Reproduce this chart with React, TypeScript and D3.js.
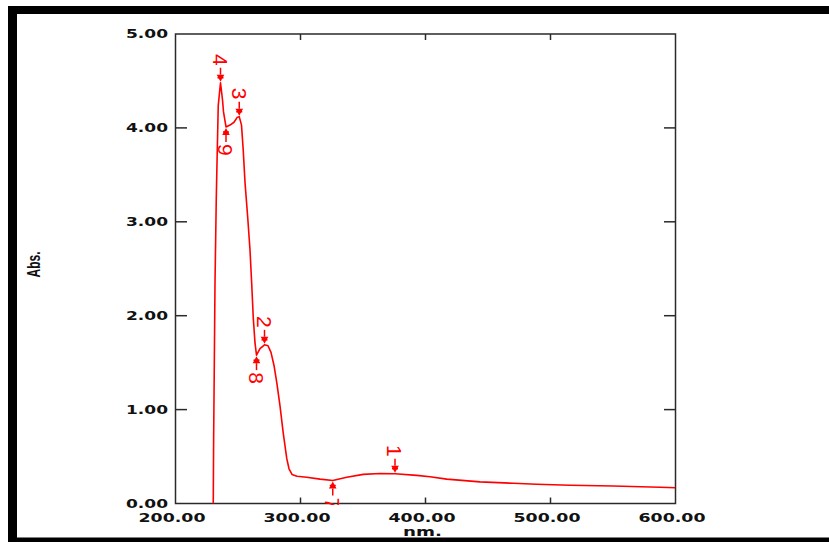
import React from "react";
import * as d3 from "d3";

// Spectrum (nm, Abs.)
const wavelengths = [
  230.2, 230.5, 231.0, 231.6, 232.6, 233.0, 234.2, 236.0, 237.6, 238.4, 240.4, 243.6, 246.8,
  249.2, 251.0, 252.8, 254.2, 255.6, 257.8, 259.6, 261.0, 262.2, 263.6, 264.8, 267.6, 271.2,
  274.0, 276.4, 278.8, 281.2, 283.6, 286.2, 289.0, 290.8, 293.2, 297.2, 305.0, 315.6, 325.8,
  337.0, 350.2, 363.6, 375.6, 393.0, 403.6, 417.0, 443.6, 470.2, 489.0, 515.6, 550.2, 587.6, 600.0,
];
const absorbance = [
  0.0, 0.68, 1.42, 2.35, 3.23, 3.5, 4.24, 4.48, 4.3, 4.17, 4.01, 4.03, 4.06,
  4.11, 4.12, 4.03, 3.76, 3.42, 3.04, 2.7, 2.33, 1.98, 1.71, 1.58, 1.65, 1.69,
  1.68, 1.61, 1.47, 1.27, 1.04, 0.75, 0.48, 0.37, 0.31, 0.29, 0.28, 0.26, 0.245,
  0.28, 0.31, 0.32, 0.317, 0.3, 0.285, 0.26, 0.23, 0.215, 0.205, 0.194, 0.186, 0.173, 0.168,
];

// Peak / valley picks
const markerLabels = ["4", "3", "9", "2", "8", "1", "7"];
const markerWl = [236.0, 251.0, 240.4, 271.2, 264.8, 375.6, 325.8];
const markerAbs = [4.48, 4.12, 4.01, 1.69, 1.58, 0.317, 0.245];
const markerKind = ["peak", "peak", "valley", "peak", "valley", "peak", "valley"];

const xTicks = [200, 300, 400, 500, 600];
const yTicks = [0, 1, 2, 3, 4, 5];
const xTitle = "nm.";
const yTitle = "Abs.";

export default function App() {
  const W = 829;
  const H = 542;
  const x = d3.scaleLinear().domain([200, 600]).range([175.5, 675.5]);
  const y = d3.scaleLinear().domain([0, 5]).range([503.5, 34]);
  const pts: [number, number][] = wavelengths.map((w, i) => [w, absorbance[i]]);
  const line = d3
    .line<[number, number]>()
    .x((d) => x(d[0]))
    .y((d) => y(d[1]));

  const x0 = x(200), x1 = x(600), yT = y(5), yB = y(0);
  const axisColor = "#2a2a2a";
  const red = "#ff0000";
  const tickFont = "'DejaVu Sans', Verdana, sans-serif";
  const narrow = "'Liberation Sans Narrow', 'Liberation Sans', Arial, sans-serif";

  return (
    <svg
      width={W}
      height={H}
      style={{ position: "absolute", left: 0, top: 0, background: "#fff" }}
    >
      <defs>
        <clipPath id="plotClip">
          <rect x={x0} y={yT} width={x1 - x0} height={yB - yT + 1.5} />
        </clipPath>
      </defs>
      {/* black frame */}
      <rect x={8} y={6} width={821} height={8} fill="#000" />
      <rect x={8} y={6} width={9} height={536} fill="#000" />
      <rect x={8} y={537.5} width={821} height={5} fill="#000" />

      {/* plot border */}
      <rect
        x={x0}
        y={yT}
        width={x1 - x0}
        height={yB - yT}
        fill="none"
        stroke={axisColor}
        strokeWidth={1.5}
      />
      {/* x ticks (inside, top & bottom) */}
      {xTicks.slice(1, -1).map((t) => (
        <g key={"xt" + t}>
          <line x1={x(t)} x2={x(t)} y1={yB} y2={yB - 6} stroke={axisColor} strokeWidth={1.5} />
          <line x1={x(t)} x2={x(t)} y1={yT} y2={yT + 6} stroke={axisColor} strokeWidth={1.5} />
        </g>
      ))}
      {/* y ticks (inside, left & right) */}
      {yTicks.slice(1, -1).map((t) => (
        <g key={"yt" + t}>
          <line x1={x0} x2={x0 + 11.5} y1={y(t)} y2={y(t)} stroke={axisColor} strokeWidth={1.5} />
          <line x1={x1} x2={x1 - 11.5} y1={y(t)} y2={y(t)} stroke={axisColor} strokeWidth={1.5} />
        </g>
      ))}
      {/* tick labels */}
      {xTicks.map((t) => (
        <text
          key={"xl" + t}
          x={x(t) - 3.5 - 33.5}
          y={522}
          textLength={67}
          lengthAdjust="spacingAndGlyphs"
          fontFamily={tickFont}
          fontWeight="bold"
          fontSize={11.5}
          fill="#111"
        >
          {t.toFixed(2)}
        </text>
      ))}
      {yTicks.map((t) => (
        <text
          key={"yl" + t}
          x={168 - 42}
          y={y(t) + 4.2}
          textLength={42}
          lengthAdjust="spacingAndGlyphs"
          fontFamily={tickFont}
          fontWeight="bold"
          fontSize={11.5}
          fill="#111"
        >
          {t.toFixed(2)}
        </text>
      ))}
      {/* axis titles */}
      <text
        x={403}
        y={535.5}
        textLength={39}
        lengthAdjust="spacingAndGlyphs"
        fontFamily={tickFont}
        fontWeight="bold"
        fontSize={12.5}
        fill="#111"
      >
        {xTitle}
      </text>
      <text
        transform="translate(40,264.5) rotate(-90)"
        textAnchor="middle"
        textLength={26}
        lengthAdjust="spacingAndGlyphs"
        fontFamily={narrow}
        fontWeight="bold"
        fontSize={19}
        fill="#111"
      >
        {yTitle}
      </text>

      <g clipPath="url(#plotClip)">
        {/* spectrum */}
        <path d={line(pts) || ""} fill="none" stroke={red} strokeWidth={1.6} strokeLinejoin="round" />
        {/* markers */}
        {markerLabels.map((lab, i) => {
          const px = x(markerWl[i]);
          const py = y(markerAbs[i]);
          const dir = markerKind[i] === "peak" ? -1 : 1;
          const tip = py + dir * 1;
          const headBase = tip + dir * 7;
          const tail = tip + dir * 14;
          const labelY = py + dir * 23;
          return (
            <g key={"m" + i}>
              <line x1={px} x2={px} y1={headBase} y2={tail} stroke={red} strokeWidth={1.5} />
              <path
                d={`M${px},${tip} L${px - 3.8},${headBase} L${px + 3.8},${headBase} Z`}
                fill={red}
              />
              <line
                x1={px - 3}
                x2={px + 3}
                y1={tip + dir * 4}
                y2={tip + dir * 4}
                stroke={red}
                strokeWidth={1.5}
              />
              <text
                transform={`translate(${px},${labelY}) rotate(90)`}
                textAnchor="middle"
                dy="0.36em"
                fontFamily={narrow}
                fontSize={21}
                fill={red}
              >
                {lab}
              </text>
            </g>
          );
        })}
      </g>
    </svg>
  );
}
